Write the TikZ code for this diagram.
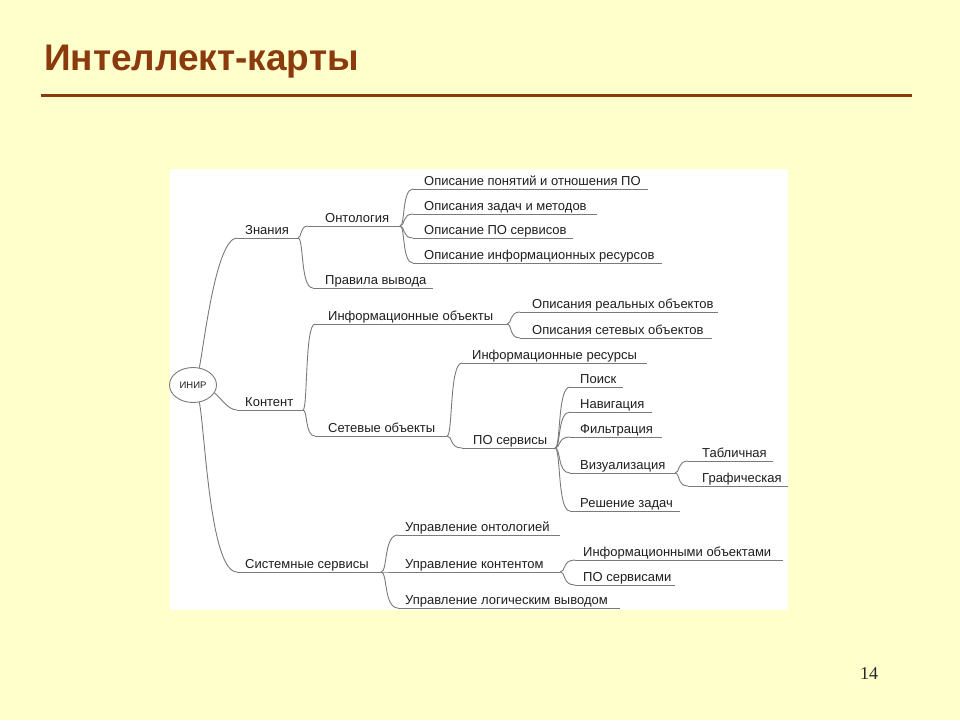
\documentclass[tikz,border=0pt]{standalone}
\usepackage{fontspec}
\setmainfont{Liberation Sans}
\newfontfamily\serifnum{Liberation Serif}
\usetikzlibrary{shapes.geometric,calc}
\definecolor{bgyellow}{HTML}{FFFFCC}
\definecolor{titlebrown}{HTML}{8B3A0E}
\definecolor{mmline}{HTML}{7A7A7A}
\definecolor{mmtext}{HTML}{1E1E1E}
\newcommand\mmn[6]{%
  \coordinate (#1-s) at (#2,#4);
  \coordinate (#1-e) at (#3,#4);
  \draw[uline] (#1-s) -- (#1-e);
  \node[lbl] (#1) at (#5,#4-4) {#6};
}
\newcommand\mmc[2]{%
  \draw[conn] let \p1=(#1-e), \p2=(#2-s) in
    (\p1) .. controls ({\x1+0.4*(\x2-\x1)},\y1) and ({\x1+0.15*(\x2-\x1)},\y2) .. (\p2);
}
\begin{document}
\begin{tikzpicture}[x=1pt,y=-1pt,
  uline/.style={draw=mmline,line width=0.9pt},
  conn/.style={draw=mmline,line width=0.9pt},
  lbl/.style={anchor=base west,inner sep=0pt,font=\fontsize{13}{15}\selectfont,text=mmtext}]
\useasboundingbox (0,0) rectangle (960,720);
\fill[bgyellow] (0,0) rectangle (960,720);
% title
\node[anchor=base west,inner sep=0pt,font=\fontsize{37}{42}\selectfont\bfseries,text=titlebrown] (title) at (44,70) {Интеллект-карты};
\coordinate (rl) at (41,95);
\coordinate (rr) at (912,95);
\draw[titlebrown,line width=3pt] (rl) -- (rr);
\node[font=\serifnum\fontsize{18}{20}\selectfont,text=black!85] (pnum) at (869,674) {14};
% white panel
\fill[white] (170,169) rectangle (788,610);
% root
\node[ellipse,draw=mmline,line width=0.9pt,minimum width=47pt,minimum height=35pt,inner sep=0pt,
  font=\fontsize{9.5}{11}\selectfont,text=mmtext] (root) at (193,385) {ИНИР};
% level 1
\mmn{znan}{237}{298}{238}{245}{Знания}
\mmn{kont}{237}{303}{410}{245}{Контент}
\mmn{sist}{237}{381}{572}{245}{Системные сервисы}
\draw[conn] (root.70) to[out=78,in=180,looseness=0.4] (znan-s);
\draw[conn] (root.-20) to[out=-40,in=180,looseness=0.8] (kont-s);
\draw[conn] (root.-70) to[out=-78,in=180,looseness=0.4] (sist-s);
% Знания
\mmn{onto}{308}{400}{226}{325}{Онтология}
\mmn{prav}{313}{433}{288}{325}{Правила вывода}
\mmc{znan}{onto}
\mmc{znan}{prav}
% Онтология
\mmn{oa}{413}{648}{189}{424}{Описание понятий и отношения ПО}
\mmn{ob}{413}{597}{214}{424}{Описания задач и методов}
\mmn{oc}{413}{573}{238}{424}{Описание ПО сервисов}
\mmn{od}{413}{662}{263}{424}{Описание информационных ресурсов}
\mmc{onto}{oa}
\mmc{onto}{ob}
\mmc{onto}{oc}
\mmc{onto}{od}
% Контент
\mmn{io}{315}{507}{324}{328}{Информационные объекты}
\mmn{so}{315}{447}{436}{328}{Сетевые объекты}
\mmc{kont}{io}
\mmc{kont}{so}
% Информационные объекты
\mmn{ro}{520}{718}{312}{532}{Описания реальных объектов}
\mmn{no}{520}{712}{338}{532}{Описания сетевых объектов}
\mmc{io}{ro}
\mmc{io}{no}
% Сетевые объекты
\mmn{ir}{462}{647}{363}{472}{Информационные ресурсы}
\mmn{ps}{462}{555}{448}{473}{ПО сервисы}
\mmc{so}{ir}
\mmc{so}{ps}
% ПО сервисы
\mmn{poisk}{570}{623}{387}{580}{Поиск}
\mmn{nav}{570}{652}{412}{580}{Навигация}
\mmn{filt}{570}{662}{437}{580}{Фильтрация}
\mmn{viz}{570}{675}{473}{580}{Визуализация}
\mmn{resh}{570}{680}{511}{580}{Решение задач}
\mmc{ps}{poisk}
\mmc{ps}{nav}
\mmc{ps}{filt}
\mmc{ps}{viz}
\mmc{ps}{resh}
% Визуализация
\mmn{tab}{688}{773}{461}{702}{Табличная}
\mmn{graf}{688}{788}{486}{702}{Графическая}
\mmc{viz}{tab}
\mmc{viz}{graf}
% Системные сервисы
\mmn{uo}{398}{560}{535}{405}{Управление онтологией}
\mmn{uk}{390}{560}{572}{405}{Управление контентом}
\mmn{ul}{398}{620}{608}{405}{Управление логическим выводом}
\mmc{sist}{uo}
\mmc{sist}{uk}
\mmc{sist}{ul}
% Управление контентом
\mmn{ua}{575}{783}{560}{583}{Информационными объектами}
\mmn{ub}{575}{675}{585}{583}{ПО сервисами}
\mmc{uk}{ua}
\mmc{uk}{ub}
\end{tikzpicture}
\end{document}
